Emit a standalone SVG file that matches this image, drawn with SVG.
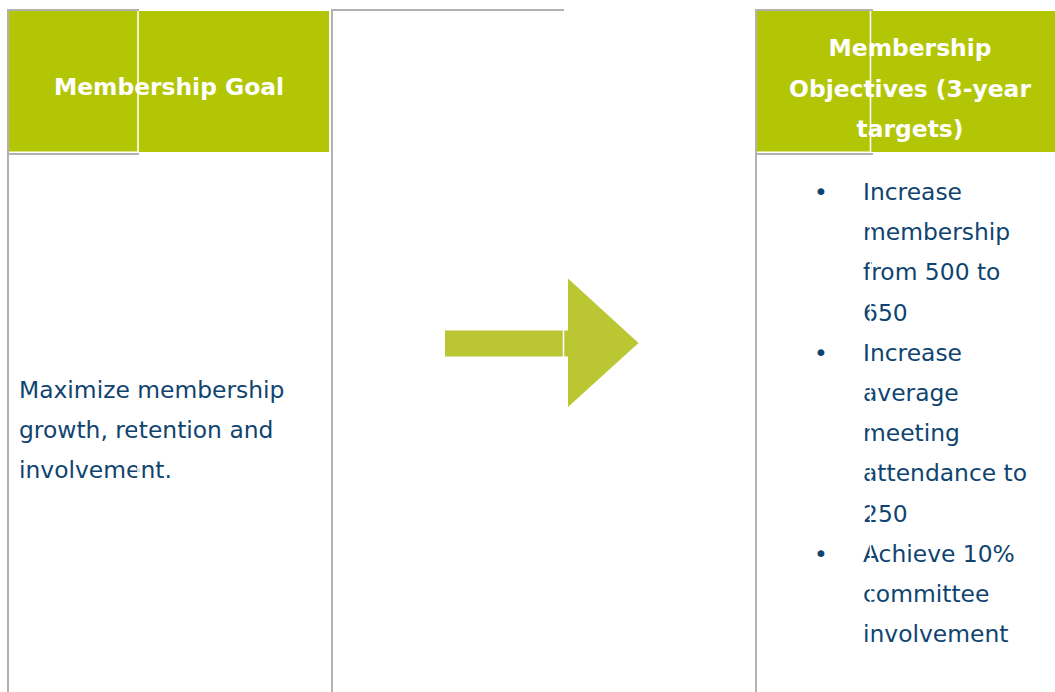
<svg xmlns="http://www.w3.org/2000/svg" width="1055" height="692" viewBox="0 0 1055 692">
  <style>
    .rule { stroke: #b2b2b2; stroke-width: 2; fill: none; }
    .cut { stroke: #ffffff; stroke-width: 1.6; fill: none; }
    .head { fill: #b3c606; }
    .htext { font-family: "DejaVu Sans", Verdana, sans-serif; font-weight: bold; font-size: 23.4px; fill: #ffffff; text-anchor: middle; }
    .btext { font-family: "DejaVu Sans", Verdana, sans-serif; font-size: 23.4px; fill: #0f4470; }
  </style>
  <rect width="1055" height="692" fill="#ffffff"/>

  <!-- left column: goal -->
  <g id="goal">
    <rect class="head" x="9" y="11" width="320" height="141"/>
    <text class="htext" x="169" y="95">Membership Goal</text>
    <text class="btext" x="19" y="398">Maximize membership</text>
    <text class="btext" x="19" y="438.2">growth, retention and</text>
    <text class="btext" x="19" y="478.4">involvement.</text>
    <line class="cut" x1="138" y1="11" x2="138" y2="692"/>
    <line class="cut" x1="9" y1="152.2" x2="138" y2="152.2"/>
    <path class="rule" d="M8 692 V10 H139"/>
    <line class="rule" x1="7" y1="154" x2="139" y2="154"/>
  </g>

  <!-- middle column frame -->
  <g id="spacer">
    <path class="rule" d="M332 692 V10 H564"/>
  </g>

  <!-- right column: objectives -->
  <g id="objectives">
    <rect class="head" x="757" y="11" width="298" height="141"/>
    <text class="htext" x="910" y="56">Membership</text>
    <text class="htext" x="910" y="96.5">Objectives (3-year</text>
    <text class="htext" x="910" y="136.8">targets)</text>
    <g class="btext">
      <text x="814" y="200">•</text>
      <text x="863" y="200">Increase</text>
      <text x="863" y="240.2">membership</text>
      <text x="863" y="280.4">from 500 to</text>
      <text x="863" y="320.6">650</text>
      <text x="814" y="360.8">•</text>
      <text x="863" y="360.8">Increase</text>
      <text x="863" y="401">average</text>
      <text x="863" y="441.2">meeting</text>
      <text x="863" y="481.4">attendance to</text>
      <text x="863" y="521.6">250</text>
      <text x="814" y="561.8">•</text>
      <text x="863" y="561.8">Achieve 10%</text>
      <text x="863" y="602">committee</text>
      <text x="863" y="642.2">involvement</text>
    </g>
    <line class="cut" x1="870.5" y1="11" x2="870.5" y2="692"/>
    <line class="cut" x1="757" y1="152.2" x2="871" y2="152.2"/>
    <path class="rule" d="M756 692 V10 H873"/>
    <line class="rule" x1="755" y1="154" x2="873" y2="154"/>
  </g>

  <!-- block arrow between the columns -->
  <g id="connectors">
    <polygon points="445,330.5 568,330.5 568,278.5 638.5,343 568,407 568,356.5 445,356.5" fill="#bac632"/>
    <line class="cut" x1="563.5" y1="328" x2="563.5" y2="359"/>
  </g>
</svg>
